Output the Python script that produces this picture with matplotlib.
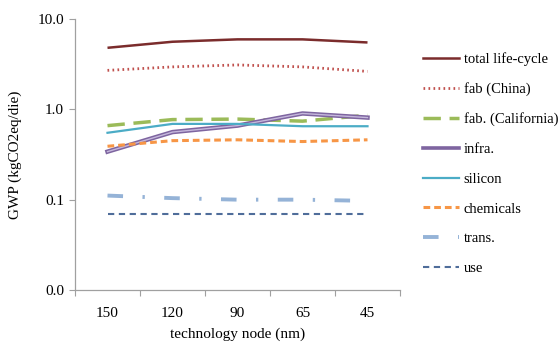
import numpy as np
import matplotlib
matplotlib.use("Agg")
import matplotlib.pyplot as plt
from matplotlib.lines import Line2D

plt.rcParams['font.family'] = ['Liberation Serif', 'DejaVu Serif']

nodes = ["150", "120", "90", "65", "45"]
total = [4.8, 5.6, 5.95, 5.95, 5.5]
fab_china = [2.7, 2.95, 3.1, 2.95, 2.63]
fab_cal = [0.66, 0.77, 0.78, 0.74, 0.86]
infra = [0.34, 0.56, 0.66, 0.9, 0.81]
silicon = [0.55, 0.69, 0.69, 0.65, 0.65]
chemicals = [0.39, 0.45, 0.46, 0.44, 0.46]
trans = [0.111, 0.104, 0.100, 0.100, 0.097]
use = [0.07, 0.07, 0.07, 0.07, 0.07]

x = np.arange(len(nodes))

fig = plt.figure(figsize=(5.58, 3.46), dpi=100)
ax = fig.add_axes([75/558, 1 - 290/346, 325/558, 271/346])

ax.plot(x, total, color='#7b2c2c', lw=1.8, solid_capstyle='butt')
ax.plot(x, fab_china, color='#c0504d', lw=2, linestyle=(0, (0.6, 1.2)))
ax.plot(x, fab_cal, color='#9bbb59', lw=2.5, linestyle=(0, (5, 2.5)))
ax.plot(x, infra, color='#7e65a0', lw=3.2)
ax.plot(x, infra, color='#c5b8dc', lw=1.0)
ax.plot(x, silicon, color='#4bacc6', lw=1.6)
ax.plot(x, chemicals, color='#f79646', lw=2.2, linestyle=(0, (2.2, 1.3)))
ax.plot(x, trans, color='#95b3d7', lw=2.8, linestyle=(0, (4, 5, 0.6, 5)))
ax.plot(x, use, color='#4f6d9a', lw=1.5, linestyle=(0, (3, 2.2)))

ax.set_yscale('log')
ax.set_ylim(0.01, 10)
ax.set_yticks([0.01, 0.1, 1, 10])
ax.set_yticklabels(["0.0", "0.1", "1.0", "10.0"])
ax.yaxis.set_minor_locator(matplotlib.ticker.NullLocator())
ax.set_xlim(-0.5, len(nodes) - 0.5)
ax.set_xticks(np.arange(-0.5, len(nodes)))
ax.set_xticklabels([])
ax.set_xticks(x, minor=True)
ax.set_xticklabels(nodes, minor=True)
ax.tick_params(axis='x', which='major', length=4, color='#a0a0a0', direction='out')
ax.tick_params(axis='x', which='minor', length=0, pad=12, labelsize=11)
ax.tick_params(axis='y', length=4, color='#a0a0a0', direction='out', labelsize=11, pad=4)

for s in ['top', 'right']:
    ax.spines[s].set_visible(False)
for s in ['left', 'bottom']:
    ax.spines[s].set_color('#a0a0a0')
    ax.spines[s].set_linewidth(0.9)

ax.set_xlabel("technology node (nm)", fontsize=11, labelpad=6)
ax.set_ylabel("GWP (kgCO2eq/die)", fontsize=11, labelpad=11)

labels = ["total life-cycle", "fab (China)", "fab. (California)", "infra.", "silicon",
          "chemicals", "trans.", "use"]
handles = [
    Line2D([], [], color='#7b2c2c', lw=1.8),
    Line2D([], [], color='#c0504d', lw=2, linestyle=(0, (0.6, 1.2))),
    Line2D([], [], color='#9bbb59', lw=2.5, linestyle=(0, (5, 2.5))),
    Line2D([], [], color='#7e65a0', lw=2.6),
    Line2D([], [], color='#4bacc6', lw=1.6),
    Line2D([], [], color='#f79646', lw=2.2, linestyle=(0, (2.2, 1.3))),
    Line2D([], [], color='#95b3d7', lw=2.8, linestyle=(0, (4, 5, 0.6, 5))),
    Line2D([], [], color='#4f6d9a', lw=1.5, linestyle=(0, (3, 2.2))),
]
fig.legend(handles, labels, loc='upper left', bbox_to_anchor=(417/558, 1 - 46/346),
           frameon=False, fontsize=10.5, handlelength=2.5, handletextpad=0.3,
           labelspacing=1.13, borderaxespad=0)

fig.savefig("out.png", dpi=100)
